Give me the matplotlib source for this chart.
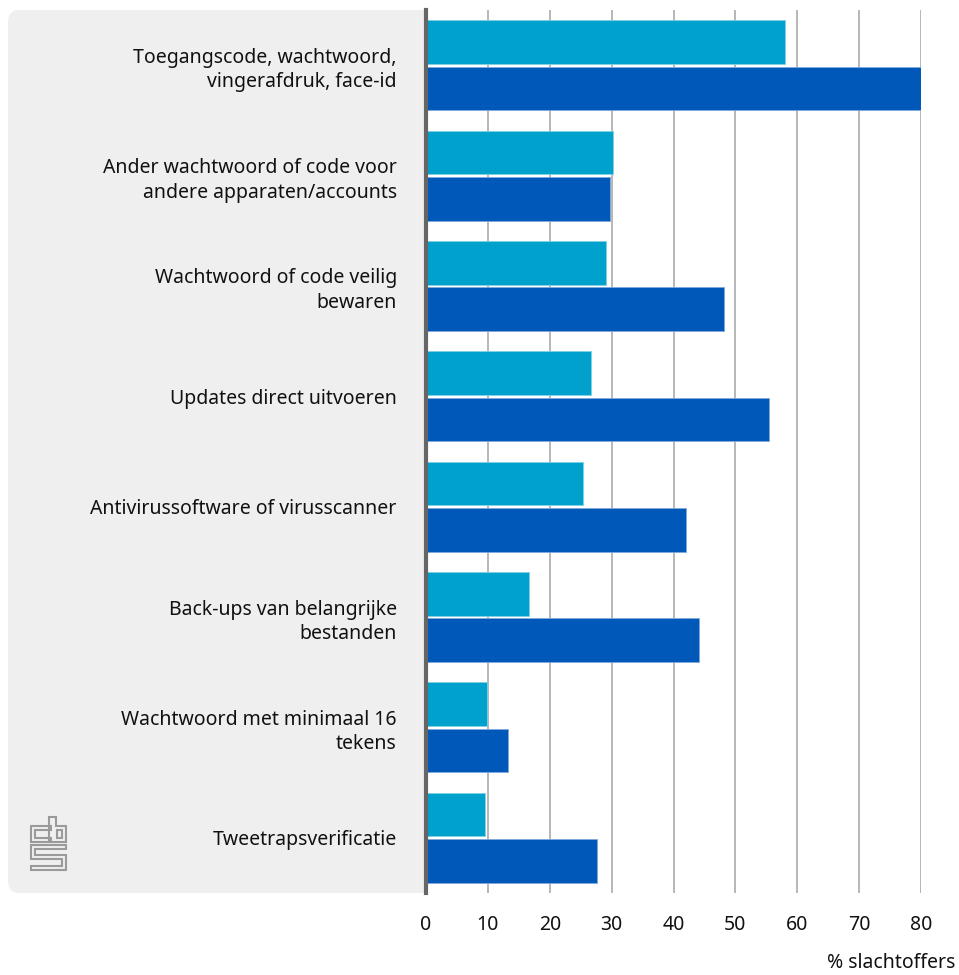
import matplotlib
matplotlib.use('agg')
import matplotlib.pyplot as plt
from matplotlib.patches import FancyBboxPatch, Polygon
import numpy as np

# share of victims per security measure, two series
categories = [
    'Toegangscode, wachtwoord,\nvingerafdruk, face-id',
    'Ander wachtwoord of code voor\nandere apparaten/accounts',
    'Wachtwoord of code veilig\nbewaren',
    'Updates direct uitvoeren',
    'Antivirussoftware of virusscanner',
    'Back-ups van belangrijke\nbestanden',
    'Wachtwoord met minimaal 16\ntekens',
    'Tweetrapsverificatie',
]
series_light = [58.0, 30.3, 29.1, 26.6, 25.4, 16.7, 9.9, 9.6]
series_dark = [80.0, 29.8, 48.1, 55.4, 42.0, 44.2, 13.3, 27.6]
xticks = [0, 10, 20, 30, 40, 50, 60, 70, 80]
xlabel = '% slachtoffers'

plt.rcParams['font.family'] = ['Noto Sans', 'DejaVu Sans']

W, H = 959, 975
fig = plt.figure(figsize=(W / 100, H / 100), dpi=100)

def fx(px):
    return px / W

def fy(py):
    return 1 - py / H

# grey label panel with rounded corners on the left
pad = 0.012
panel = FancyBboxPatch((fx(8) + pad, fy(893) + pad), fx(426 - 8) - 2 * pad, fy(10) - fy(893) - 2 * pad,
                       boxstyle='round,pad=%g,rounding_size=%g' % (pad, pad),
                       transform=fig.transFigure, facecolor='#efefef', edgecolor='none', zorder=-1)
fig.patches.append(panel)
# square off the right side of the panel against the axis
fig.patches.append(plt.Rectangle((fx(300), fy(893)), fx(426) - fx(300), fy(10) - fy(893),
                                 transform=fig.transFigure, facecolor='#efefef', edgecolor='none', zorder=-1))

ax = fig.add_axes([fx(426), fy(893), fx(921) - fx(426), fy(10) - fy(893)])
ax.set_facecolor('none')

y = np.arange(len(categories))
h = 0.395
off = 0.21
ax.barh(y - off, series_light, height=h, color='#00a1cd', edgecolor='#7fd0e6', linewidth=0.6, zorder=3)
ax.barh(y + off, series_dark, height=h, color='#0058b8', edgecolor='#7fa8dc', linewidth=0.6, zorder=3)

ax.set_ylim(len(categories) - 0.5, -0.5)
ax.set_xlim(0, 80)
ax.set_xticks(xticks)
ax.set_xticklabels([str(t) for t in xticks], fontsize=14, color='#111111')
ax.tick_params(axis='x', length=0, pad=16)
ax.set_yticks(y)
ax.set_yticklabels(categories, fontsize=14, color='#111111', linespacing=1.3)
ax.tick_params(axis='y', length=0, pad=21)

ax.grid(axis='x', color='#aaaaaa', linewidth=1.2, zorder=1)
for s in ['top', 'right', 'bottom']:
    ax.spines[s].set_visible(False)
ax.spines['left'].set_color('#666666')
ax.spines['left'].set_linewidth(3)
ax.spines['left'].set_zorder(4)

fig.text(fx(955), fy(963), xlabel, ha='right', va='center', fontsize=14, color='#111111')

# cbs logo in the corner of the panel
logo = [
    [(51, 826), (31, 826), (31, 842), (51, 842), (51, 838), (35, 838), (35, 830), (51, 830)],
    [(49, 817), (56, 817), (56, 826), (66, 826), (66, 842), (49, 842)],
    [(57, 830), (62, 830), (62, 838), (57, 838)],
    [(31, 845), (66, 845), (66, 849), (35, 849), (35, 855), (66, 855), (66, 870),
     (31, 870), (31, 866), (62, 866), (62, 859), (31, 859)],
]
for pts in logo:
    fig.patches.append(Polygon([(fx(a), fy(b)) for a, b in pts], closed=True, fill=False,
                               edgecolor='#9a9a9a', linewidth=1.5, transform=fig.transFigure))

fig.savefig('out.png', dpi=100)
